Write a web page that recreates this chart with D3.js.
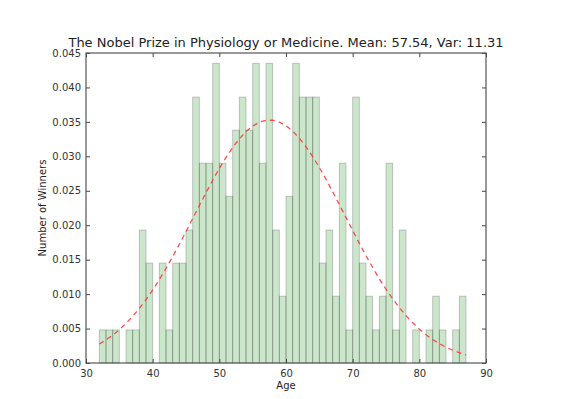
<!DOCTYPE html>
<html>
<head>
<meta charset="utf-8">
<script src="https://d3js.org/d3.v7.min.js"></script>
<style>
  body { margin: 0; background: #fff; }
  svg { font-family: "DejaVu Sans", sans-serif; }
</style>
</head>
<body>
<div id="chart"></div>
<script>
// bin left edges (age, years) and bar heights (normed frequency)
var binStarts = [32,33,34,35,36,37,38,39,40,41,42,43,44,45,46,47,48,49,50,51,52,53,54,55,56,57,58,59,
  60,61,62,63,64,65,66,67,68,69,70,71,72,73,74,75,76,77,78,79,80,81,82,83,84,85,86];
var binHeights = [0.0048,0.0048,0.0048,0,0.0048,0.0048,0.0193,0.0145,0,0.0145,0.0048,0.0145,0.0145,0.0193,
  0.0386,0.0290,0.0290,0.0435,0.0290,0.0242,0.0338,0.0386,0.0338,0.0435,0.0290,0.0435,0.0193,0.0097,
  0.0242,0.0435,0.0386,0.0386,0.0386,0.0145,0.0193,0.0097,0.0290,0.0048,0.0386,0.0145,0.0097,0.0048,
  0.0097,0.0290,0.0048,0.0193,0,0.0048,0,0.0048,0.0097,0.0048,0,0.0048,0.0097];
var binWidth = 1;

// red dashed fit curve, values at the bin edges 32..87
var curveX = [32,33,34,35,36,37,38,39,40,41,42,43,44,45,46,47,48,49,50,51,52,53,54,55,56,57,58,59,
  60,61,62,63,64,65,66,67,68,69,70,71,72,73,74,75,76,77,78,79,80,81,82,83,84,85,86,87];
var curveY = [0.00276,0.00335,0.00404,0.00484,0.00575,0.00678,0.00793,0.00920,0.01060,0.01211,0.01372,
  0.01544,0.01723,0.01908,0.02096,0.02285,0.02472,0.02652,0.02825,0.02984,0.03128,0.03254,0.03359,
  0.03439,0.03495,0.03523,0.03524,0.03498,0.03445,0.03366,0.03263,0.03139,0.02996,0.02838,0.02667,
  0.02486,0.02300,0.02111,0.01923,0.01737,0.01558,0.01386,0.01223,0.01071,0.00931,0.00803,0.00687,
  0.00583,0.00491,0.00410,0.00340,0.00280,0.00229,0.00185,0.00149,0.00119];

var xTicks = [30,40,50,60,70,80,90];
var yTicks = [0.000,0.005,0.010,0.015,0.020,0.025,0.030,0.035,0.040,0.045];

var chartTitle = "The Nobel Prize in Physiology or Medicine. Mean: 57.54, Var: 11.31";

var width = 582, height = 399;
var margin = {top: 53, right: 96, bottom: 36, left: 86};

function drawChart(){

  var svg = d3.select("#chart").append("svg")
    .attr("width", width)
    .attr("height", height);

  var x = d3.scaleLinear().domain([30, 90]).range([margin.left, width - margin.right]);
  var y = d3.scaleLinear().domain([0, 0.045]).range([height - margin.bottom, margin.top]);

  var bars = binStarts.map(function(d, i){ return {x0: d, h: binHeights[i]}; })
    .filter(function(d){ return d.h > 0; });

  // histogram bars
  svg.append("g").selectAll("rect")
    .data(bars)
    .enter().append("rect")
    .attr("x", function(d){ return x(d.x0); })
    .attr("y", function(d){ return y(d.h); })
    .attr("width", function(d){ return x(d.x0 + binWidth) - x(d.x0); })
    .attr("height", function(d){ return y(0) - y(d.h); })
    .style("fill", "green")
    .style("fill-opacity", 0.2)
    .style("stroke", "black")
    .style("stroke-opacity", 0.2)
    .style("stroke-width", 1);

  // fitted curve
  var line = d3.line()
    .x(function(d){ return x(d[0]); })
    .y(function(d){ return y(d[1]); });

  svg.append("path")
    .datum(curveX.map(function(d, i){ return [d, curveY[i]]; }))
    .attr("d", line)
    .style("fill", "none")
    .style("stroke", "#ff3030")
    .style("stroke-opacity", 0.85)
    .style("stroke-width", 1.3)
    .style("stroke-dasharray", "5,4");

  // axes, ticks pointing inwards on all four sides
  var tickSize = -4;
  var bottomAxis = d3.axisBottom(x).tickValues(xTicks).tickSize(tickSize).tickPadding(7)
    .tickFormat(d3.format("d"));
  var topAxis = d3.axisTop(x).tickValues(xTicks).tickSize(tickSize).tickFormat("");
  var leftAxis = d3.axisLeft(y).tickValues(yTicks).tickSize(tickSize).tickPadding(5)
    .tickFormat(d3.format(".3f"));
  var rightAxis = d3.axisRight(y).tickValues(yTicks).tickSize(tickSize).tickFormat("");

  var axes = [
    svg.append("g").attr("transform", "translate(0," + y(0) + ")").call(bottomAxis),
    svg.append("g").attr("transform", "translate(0," + y(0.045) + ")").call(topAxis),
    svg.append("g").attr("transform", "translate(" + x(30) + ",0)").call(leftAxis),
    svg.append("g").attr("transform", "translate(" + x(90) + ",0)").call(rightAxis)
  ];
  axes.forEach(function(g){
    g.select(".domain").remove();
    g.selectAll("line").style("stroke", "#444");
    g.selectAll("text").style("font-size", "10px").style("fill", "#333")
      .style("font-family", "'DejaVu Sans', sans-serif");
  });

  // frame
  svg.append("rect")
    .attr("x", x(30)).attr("y", y(0.045))
    .attr("width", x(90) - x(30)).attr("height", y(0) - y(0.045))
    .style("fill", "none")
    .style("stroke", "#555")
    .style("stroke-width", 1.2);

  svg.append("text")
    .attr("x", (x(30) + x(90)) / 2)
    .attr("y", 47)
    .attr("text-anchor", "middle")
    .style("font-size", "13px")
    .style("fill", "#222")
    .text(chartTitle);

  svg.append("text")
    .attr("x", (x(30) + x(90)) / 2)
    .attr("y", 389)
    .attr("text-anchor", "middle")
    .style("font-size", "10px")
    .style("fill", "#222")
    .text("Age");

  svg.append("text")
    .attr("transform", "translate(46," + (y(0) + y(0.045)) / 2 + ") rotate(-90)")
    .attr("text-anchor", "middle")
    .style("font-size", "10px")
    .style("fill", "#222")
    .text("Number of Winners");
}

drawChart();
</script>
</body>
</html>
